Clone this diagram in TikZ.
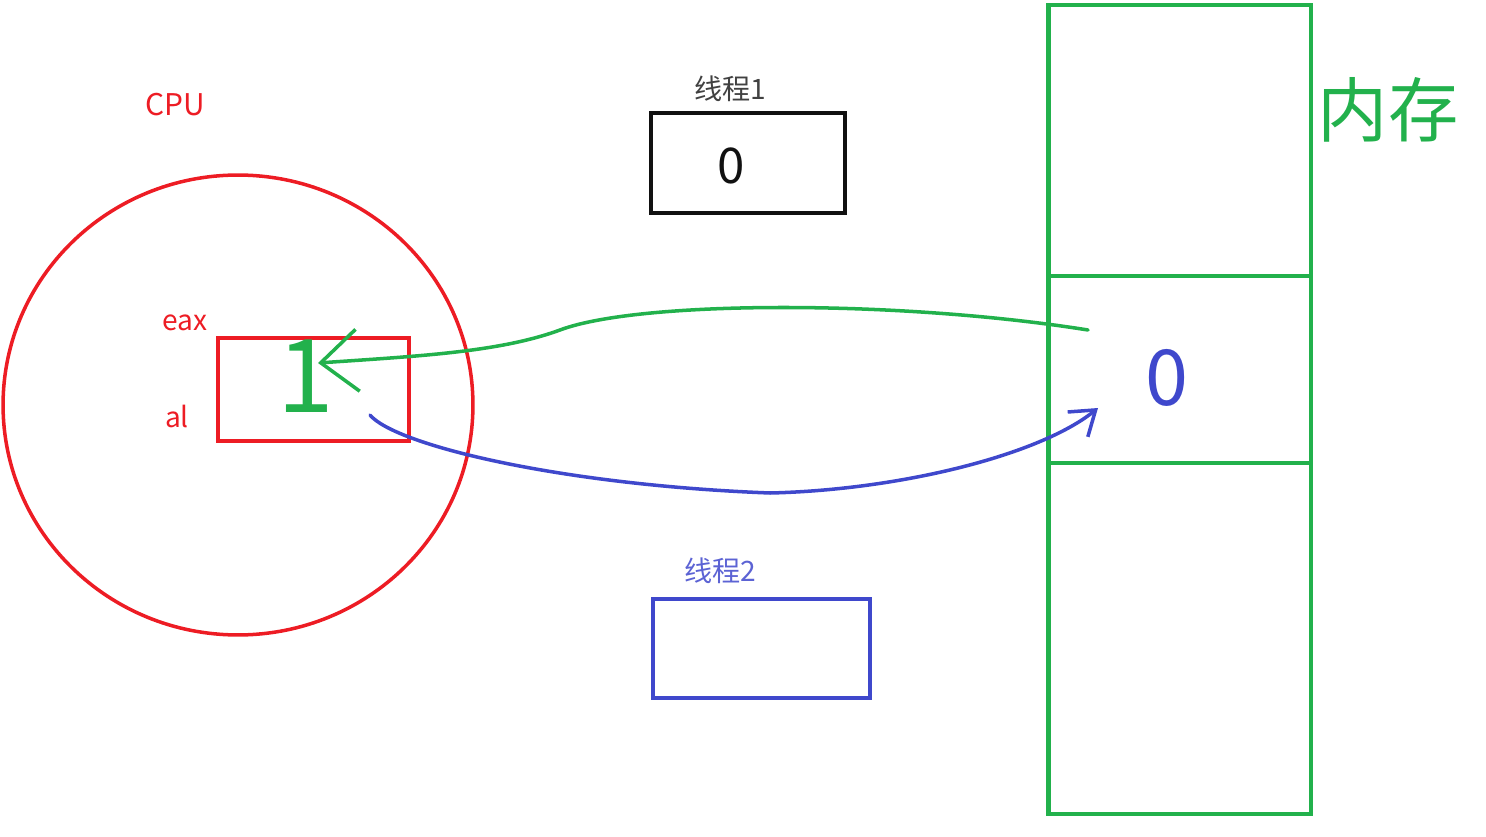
\documentclass[tikz,border=0pt]{standalone}
\usepackage{fontspec}
\setmainfont{Noto Sans CJK SC}
\usepackage{xcolor}
\usepackage{tikz}
\usetikzlibrary{arrows.meta,shapes.geometric}
\definecolor{cpured}{HTML}{ED1C24}
\definecolor{memgreen}{HTML}{22B14C}
\definecolor{thrblue}{HTML}{3F48CC}
\definecolor{ink}{HTML}{111111}
\tikzset{
  box/.style={draw,rectangle,line width=2.8pt,outer sep=0pt,inner sep=0pt},
  cell/.style={box,draw=memgreen,minimum width=5.26cm},
  label/.style={font=\fontsize{16}{19}\selectfont,inner sep=0pt},
  digit/.style={inner sep=0pt},
  load/.style={-{Straight Barb[length=7.4mm,width=12.4mm,line width=2pt]},line width=2pt,draw=memgreen,line cap=round},
  store/.style={-{Straight Barb[length=4.6mm,width=6.4mm,line width=2pt]},line width=2pt,draw=thrblue,line cap=round}
}
\begin{document}
\begin{tikzpicture}[x=0.02cm,y=-0.02cm]
\useasboundingbox (0,0) rectangle (1486,837);
% cpu
\node[ellipse,draw=cpured,line width=2pt,minimum width=9.4cm,minimum height=9.2cm] (cpu) at (238,405) {};
\node[label,text=cpured,font=\fontsize{17}{20}\selectfont] (cpulbl) at (175,105) {CPU};
\node[box,draw=cpured,minimum width=3.82cm,minimum height=2.06cm] (reg) at (313.5,389.5) {};
\node[label,text=cpured] (eax) at (185,323) {eax};
\node[label,text=cpured] (al) at (177,416) {al};
\node[digit,text=memgreen,font=\fontsize{58}{58}\selectfont] (one) at (306,376) {1};

% threads
\node[box,draw=ink,minimum width=3.88cm,minimum height=2.0cm] (t1) at (748,163) {};
\node[label,text=ink!80] (t1lbl) at (730,89) {线程1};
\node[digit,text=ink,font=\fontsize{28}{28}\selectfont] (t1val) at (731,166) {0};
\node[box,draw=thrblue,minimum width=4.34cm,minimum height=1.98cm] (t2) at (761.5,648.5) {};
\node[label,text=thrblue!85] (t2lbl) at (720,571) {线程2};

% memory
\node[cell,minimum height=5.42cm] (memtop) at (1179.5,140.5) {};
\node[cell,minimum height=3.74cm] (memmid) at (1179.5,369.5) {};
\node[cell,minimum height=7.02cm] (membot) at (1179.5,638.5) {};
\node[digit,text=thrblue,font=\fontsize{44}{44}\selectfont] (memval) at (1167,378) {0};
\node[digit,text=memgreen,font=\fontsize{40}{40}\selectfont] (memlbl) at (1388,110) {内存};

% load and store
\coordinate (gsrc) at (1088,330);
\coordinate (gdst) at (318,363);
\coordinate (bsrc) at (370,415);
\coordinate (bdst) at (1098,408);
\draw[load] (gsrc) .. controls (900,300) and (640,300) .. (560,330) .. controls (500,352) and (420,356) .. (gdst);
\draw[store] (bsrc) .. controls (395,445) and (560,485) .. (770,493) .. controls (900,490) and (1040,455) .. (bdst);
\end{tikzpicture}
\end{document}
